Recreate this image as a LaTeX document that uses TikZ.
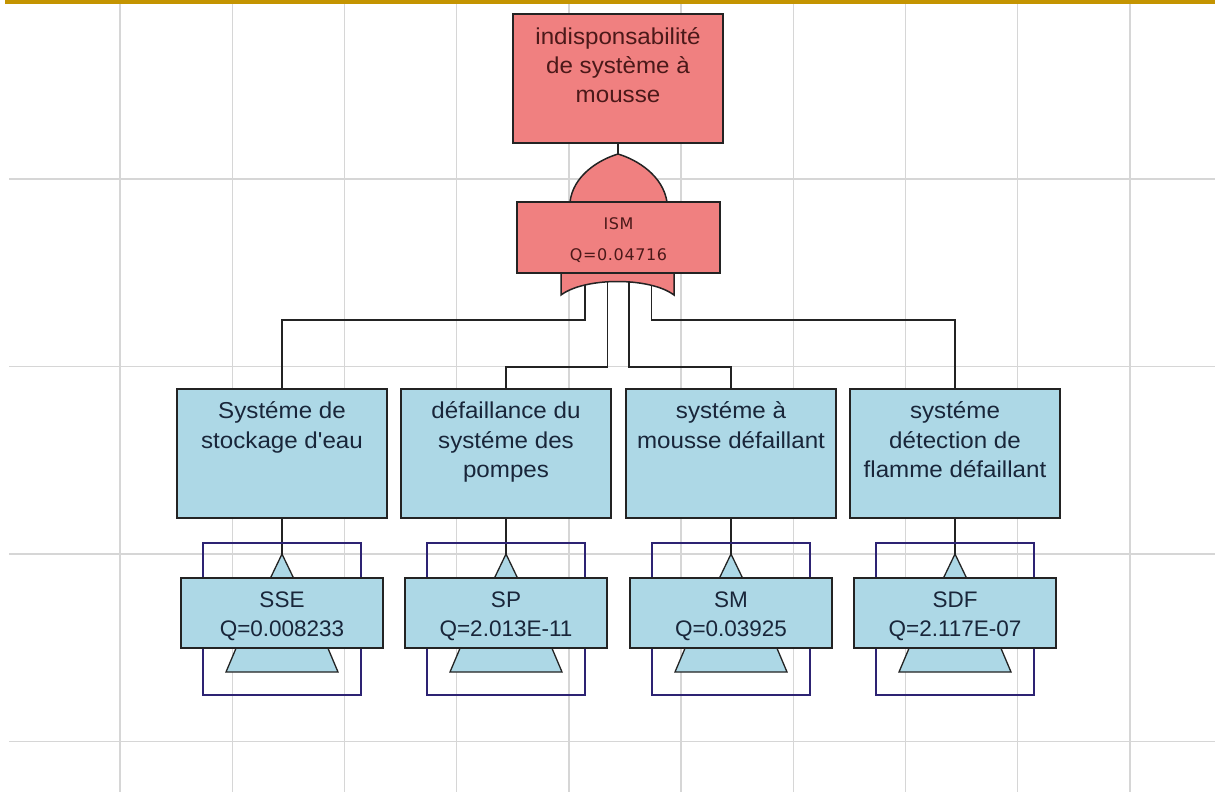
\documentclass[tikz,border=0pt]{standalone}
\usepackage{fontspec}
\setmainfont{Liberation Sans}
\newfontfamily\labelfont[FakeStretch=1.05,Ligatures=ResetAll]{Liberation Sans}
\newfontfamily\codefont[Ligatures=ResetAll]{Liberation Sans}
\newfontfamily\gatefont[LetterSpace=4]{DejaVu Sans}

\definecolor{gridgray}{RGB}{214,214,214}
\definecolor{bargold}{RGB}{196,148,0}
\definecolor{eventred}{RGB}{240,128,128}
\definecolor{eventblue}{RGB}{173,216,230}
\definecolor{edgedark}{RGB}{35,35,35}
\definecolor{framenavy}{RGB}{45,35,115}
\definecolor{redink}{RGB}{75,25,25}
\definecolor{blueink}{RGB}{25,38,58}

\pgfdeclarelayer{gridlayer}
\pgfdeclarelayer{wirelayer}
\pgfsetlayers{gridlayer,wirelayer,main}

\tikzset{
  gridline/.style={draw=gridgray, line width=1.4pt},
  evbox/.style={draw=edgedark, line width=1.6pt, rectangle, inner sep=0pt},
  redbox/.style={evbox, fill=eventred},
  bluebox/.style={evbox, fill=eventblue, minimum width=210pt, minimum height=129pt},
  xferbox/.style={evbox, fill=eventblue, minimum width=202pt, minimum height=70pt},
  xferframe/.style={draw=framenavy, line width=1.5pt},
  xfershape/.style={draw=edgedark, line width=1.3pt, fill=eventblue},
  orgate/.style={draw=edgedark, line width=1.5pt, fill=eventred},
  link/.style={draw=edgedark, line width=1.4pt},
  toptext/.style={anchor=north, inner sep=0pt, align=center, text=redink,
    font=\labelfont\fontsize{23}{29}\selectfont},
  gatetext/.style={anchor=north, inner sep=0pt, align=center, text=redink,
    font=\gatefont\fontsize{16}{31}\selectfont},
  boxtext/.style={anchor=north, inner sep=0pt, align=center, text=blueink,
    font=\labelfont\fontsize{23}{29.5}\selectfont},
  xfertext/.style={anchor=north, inner sep=0pt, align=center, text=blueink,
    font=\codefont\fontsize{22.5}{29}\selectfont},
}

\begin{document}
\begin{tikzpicture}[x=1pt,y=-1pt]
\useasboundingbox (0,0) rectangle (1215,792);

% sheet, grid and header bar
\begin{pgfonlayer}{gridlayer}
  \fill[white] (0,0) rectangle (1215,792);
  \foreach \i in {0,...,9}{
    \draw[gridline] ({120+112.2*\i},3) -- ({120+112.2*\i},792);
  }
  \foreach \j in {0,...,3}{
    \draw[gridline] (9,{179+187.5*\j}) -- (1215,{179+187.5*\j});
  }
  \fill[bargold] (5,0) rectangle (1215,3.8);
\end{pgfonlayer}

% transfer symbols under the basic events
\foreach \n/\cx/\code/\qv in {1/282/SSE/0.008233, 2/506/SP/2.013E-11,
                              3/731/SM/0.03925, 4/955/SDF/2.117E-07}{
  \draw[xferframe] ({\cx-79},543) rectangle ({\cx+79},695);
  \draw[xfershape] (\cx,554) -- ({\cx+12.5},580) -- ({\cx-12.5},580) -- cycle;
  \draw[xfershape] ({\cx-45},646) -- ({\cx+45},646) -- ({\cx+56},672) -- ({\cx-56},672) -- cycle;
  \node[xferbox] (t\n) at (\cx,613) {};
  \node[xfertext] (tt\n) at ([yshift=-9.5pt]t\n.north) {\strut\code\\Q=\qv};
  \coordinate (apex\n) at (\cx,554);
}

% intermediate events
\node[bluebox] (b1) at (282,453.5) {};
\node[boxtext] (bt1) at ([yshift=-9.5pt]b1.north) {\strut Systéme de\\stockage d'eau};
\node[bluebox] (b2) at (506,453.5) {};
\node[boxtext] (bt2) at ([yshift=-9.5pt]b2.north) {\strut défaillance du\\systéme des\\pompes};
\node[bluebox] (b3) at (731,453.5) {};
\node[boxtext] (bt3) at ([yshift=-9.5pt]b3.north) {\strut systéme à\\mousse défaillant};
\node[bluebox] (b4) at (955,453.5) {};
\node[boxtext] (bt4) at ([yshift=-9.5pt]b4.north) {\strut systéme\\détection de\\flamme défaillant};

% OR gate
\path[orgate] (561,295) -- (561,273) -- (570,202)
  .. controls (573,176) and (598,160) .. (618,154)
  .. controls (638,160) and (663,176) .. (667,202)
  -- (674,273) -- (674,295)
  .. controls (650,277) and (585,277) .. (561,295) -- cycle;
\coordinate (gin) at (618,154);
\coordinate (o1) at (585,280);
\coordinate (o2) at (607.5,278);
\coordinate (o3) at (629,278);
\coordinate (o4) at (651.5,280);
\node[redbox, minimum width=203pt, minimum height=71pt] (ism) at (618.5,237.5) {};
\node[gatetext] (ismt) at ([yshift=-6.5pt]ism.north) {\strut ISM\\Q=0.04716};

% top event
\node[redbox, minimum width=210pt, minimum height=129pt] (top) at (618,78.5) {};
\node[toptext] (topt) at ([yshift=-10.5pt]top.north) {\strut indisponsabilité\\de système à\\mousse};

% connectors
\begin{pgfonlayer}{wirelayer}
  \coordinate (busA) at (0,320);
  \coordinate (busB) at (0,367);
  \draw[link] (top.south) -- (gin);
  \draw[link] (o1) -- (o1 |- busA) -| (b1.north);
  \draw[link] (o2) -- (o2 |- busB) -| (b2.north);
  \draw[link] (o3) -- (o3 |- busB) -| (b3.north);
  \draw[link] (o4) -- (o4 |- busA) -| (b4.north);
  \foreach \n in {1,...,4}{
    \draw[link] (b\n.south) -- (apex\n);
  }
\end{pgfonlayer}
\end{tikzpicture}
\end{document}
